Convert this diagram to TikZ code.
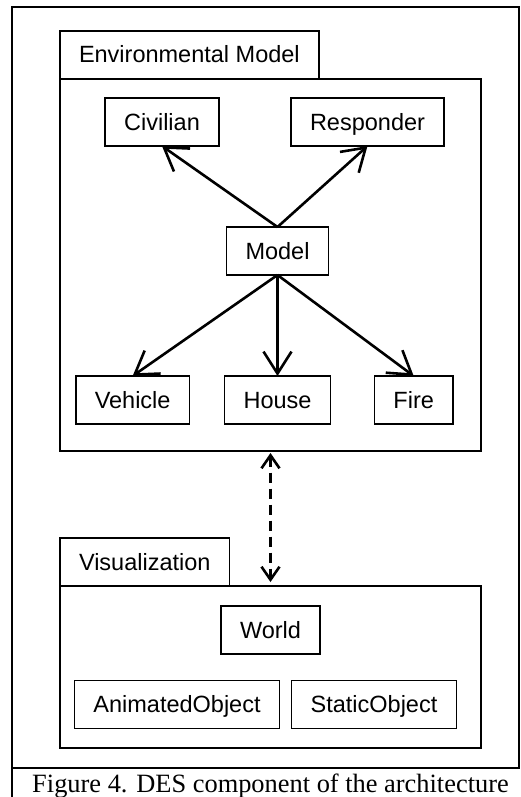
\documentclass[tikz,border=0pt]{standalone}
\usepackage{fontspec}
\setmainfont{Liberation Serif}
\setsansfont{Liberation Sans}
\usetikzlibrary{positioning}
\usetikzlibrary{arrows.meta}
\tikzstyle{cls} = [rectangle, draw=black, line width=1.6pt, inner xsep=19pt, inner ysep=0pt,
    minimum height=48pt, text height=19pt, text depth=3pt, outer sep=0pt,
    font=\sffamily\fontsize{23.5}{26}\selectfont]
\tikzstyle{tab} = [cls, anchor=west]
\tikzstyle{pkg} = [rectangle, draw=black, line width=1.6pt, minimum width=421pt, outer sep=0pt,
    anchor=north west]
\tikzstyle{arrow} = [line width=2.6pt, -{Straight Barb[length=22pt,width=28pt]}]
\tikzstyle{link} = [line width=2.6pt, dash pattern=on 10pt off 6pt,
    {Straight Barb[length=13pt,width=18pt]}-{Straight Barb[length=13pt,width=18pt]}]

\begin{document}
\begin{tikzpicture}[x=1pt, y=-1pt, node distance=20pt]
    \useasboundingbox (0,0) rectangle (520,797);
    % Frame and caption
    \draw [line width=2.4pt] (519,768) -- (519,7) -- (12,7) -- (12,797);
    \draw [line width=2.4pt] (12,768) -- (520,768);
    \node (caption) [anchor=base, inner sep=0pt] at (270.5,792)
        {\fontsize{26.4}{30}\selectfont Figure 4. DES component of the architecture};

    % Environmental model package
    \node (envtab) [tab] at (60,55) {Environmental Model};
    \node (envbody) [pkg, minimum height=372pt] at (envtab.south west) {};
    \node (model) [cls] at (277.5,251) {Model};
    \node (civ) [cls] at (162,122) {Civilian};
    \node (resp) [cls] at (367.5,122) {Responder};
    \node (house) [cls, below=101pt of model] {House};
    \node (vehicle) [cls, left=35pt of house] {Vehicle};
    \node (fire) [cls, right=44pt of house] {Fire};

    % Visualization package
    \node (vistab) [tab] at (60,562) {Visualization};
    \node (visbody) [pkg, minimum height=162pt] at (vistab.south west) {};
    \node (world) [cls, below=20pt of visbody.north] {World};
    \node (anim) [cls] at (177,704.5) {AnimatedObject};
    \node (static) [cls] at (374,704.5) {StaticObject};

    % Arrows
    \draw [arrow] (model.north) -- (civ.south);
    \draw [arrow] (model.north) -- (resp.south);
    \draw [arrow] (model.south) -- (vehicle.north);
    \draw [arrow] (model.south) -- (house.north);
    \draw [arrow] (model.south) -- (fire.north);
    \draw [link, shorten <=2pt, shorten >=4pt] (envbody.south) -- (visbody.north);
\end{tikzpicture}
\end{document}
